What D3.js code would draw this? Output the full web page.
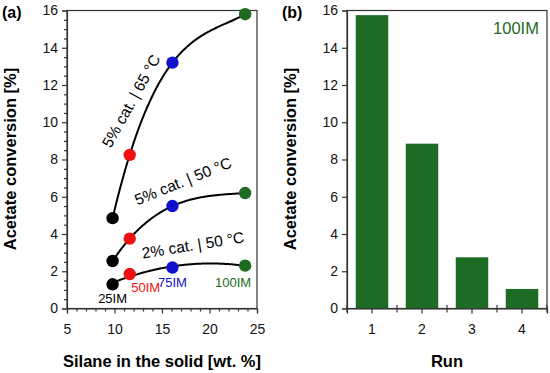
<!DOCTYPE html>
<html><head><meta charset="utf-8">
<script src="https://cdn.jsdelivr.net/npm/d3@7"></script>
<style>
body{margin:0;background:#fff;}
svg{display:block;font-family:"Liberation Sans",Arial,sans-serif;}
</style></head>
<body>
<svg id="c" width="550" height="373"></svg>
<script>
// ---- Data ----
const samples = ["25IM","50IM","75IM","100IM"];
const silane = [9.8, 11.6, 16.1, 23.75];
const sampleColors = ["#000000","#ee1111","#1111cc","#1e6b22"];
const series65_5 = [4.85, 8.25, 13.2, 15.8];
const series50_5 = [2.55, 3.75, 5.5, 6.2];
const series50_2 = [1.3, 1.85, 2.2, 2.3];
const trendOrder = [3, 3, 2];
const seriesLabels = ["5% cat. | 65 °C","5% cat. | 50 °C","2% cat. | 50 °C"];
const runs = ["1","2","3","4"];
const runConversion = [15.75, 8.85, 2.75, 1.05];
const xTicksA = [5,10,15,20,25];
const yTicks = [0,2,4,6,8,10,12,14,16];

const svg = d3.select("#c");
const axisColor = "#333";
const plotTop = 10.5, plotBottom = 308.5;

// ---- Panel (a) ----
const xA = d3.scaleLinear().domain([5,25]).range([67,257]);
const yA = d3.scaleLinear().domain([0,16]).range([plotBottom, plotTop]);

const gA = svg.append("g");
gA.append("rect").attr("x",67).attr("y",plotTop).attr("width",190).attr("height",plotBottom-plotTop)
  .attr("fill","none").attr("stroke",axisColor).attr("stroke-width",1.2);

gA.append("g").attr("transform","translate(67,0)")
  .call(d3.axisLeft(yA).tickValues(yTicks).tickSize(5).tickPadding(4).tickFormat(d3.format("d")));
gA.append("g").attr("transform","translate(67,0)")
  .call(d3.axisLeft(yA).tickValues(d3.range(0,16.01,0.5).filter(v=>v%2!==0)).tickSize(3).tickFormat(""))
  .call(g=>g.select(".domain").remove());
gA.append("g").attr("transform",`translate(0,${plotBottom})`)
  .call(d3.axisBottom(xA).tickValues(xTicksA).tickSize(5).tickPadding(11).tickFormat(d3.format("d")));
gA.append("g").attr("transform",`translate(0,${plotBottom})`)
  .call(d3.axisBottom(xA).tickValues(d3.range(5,25.01,1).filter(v=>v%5!==0)).tickSize(3).tickFormat(""))
  .call(g=>g.select(".domain").remove());

// least-squares polynomial trend line of given order
function polyTrend(xs, ys, order){
  const n = order + 1;
  const A = Array.from({length:n}, ()=>new Array(n+1).fill(0));
  for (let r=0;r<n;r++){
    for (let c=0;c<n;c++) A[r][c] = d3.sum(xs, x=>Math.pow(x, r+c));
    A[r][n] = d3.sum(xs.map((x,i)=>ys[i]*Math.pow(x, r)));
  }
  for (let i=0;i<n;i++){
    let p=i; for (let k=i+1;k<n;k++) if (Math.abs(A[k][i])>Math.abs(A[p][i])) p=k;
    [A[i],A[p]]=[A[p],A[i]];
    for (let k=i+1;k<n;k++){ const f=A[k][i]/A[i][i]; for (let c=i;c<=n;c++) A[k][c]-=f*A[i][c]; }
  }
  const coef = new Array(n).fill(0);
  for (let i=n-1;i>=0;i--){
    let s=A[i][n]; for (let c=i+1;c<n;c++) s-=A[i][c]*coef[c]; coef[i]=s/A[i][i];
  }
  return x => coef.reduce((s,c,k)=>s+c*Math.pow(x,k),0);
}
const line = d3.line().x(d=>xA(d[0])).y(d=>yA(d[1]));
[series65_5, series50_5, series50_2].forEach((ser,si)=>{
  const f = polyTrend(silane, ser, trendOrder[si]);
  const pts = d3.range(silane[0], silane[3]+1e-9, (silane[3]-silane[0])/120).map(x=>[x,f(x)]);
  gA.append("path").attr("d",line(pts)).attr("fill","none").attr("stroke","#000").attr("stroke-width",2);
});
[series65_5, series50_5, series50_2].forEach(ser=>{
  gA.selectAll(null).data(ser).enter().append("circle")
    .attr("cx",(d,i)=>xA(silane[i])).attr("cy",d=>yA(d)).attr("r",6.2)
    .attr("fill",(d,i)=>sampleColors[i]);
});
const labelPos = [
  {x:131, y:101, a:-61},
  {x:183, y:181, a:-22},
  {x:193, y:245, a:-9}
];
seriesLabels.forEach((t,i)=>{
  gA.append("text").attr("transform",`translate(${labelPos[i].x},${labelPos[i].y}) rotate(${labelPos[i].a})`)
    .attr("text-anchor","middle").attr("dominant-baseline","central")
    .attr("font-size",15.5).attr("fill","#000").text(t);
});
const sampleLabelOff = [{dx:0,y:303},{dx:16,y:291.5},{dx:0,y:287},{dx:-12,y:287}];
samples.forEach((s,i)=>{
  gA.append("text").attr("x",xA(silane[i])+sampleLabelOff[i].dx).attr("y",sampleLabelOff[i].y)
    .attr("text-anchor","middle").attr("font-size",13).attr("fill",sampleColors[i]).text(s);
});

// ---- Panel (b) ----
const xB = d3.scaleBand().domain(runs).range([347,547]).paddingInner(0.35).paddingOuter(0.175);
const yB = d3.scaleLinear().domain([0,16]).range([plotBottom, plotTop]);
const gB = svg.append("g");
gB.append("rect").attr("x",347).attr("y",plotTop).attr("width",200).attr("height",plotBottom-plotTop)
  .attr("fill","none").attr("stroke",axisColor).attr("stroke-width",1.2);
gB.selectAll(null).data(runConversion).enter().append("rect")
  .attr("x",(d,i)=>xB(runs[i])).attr("width",xB.bandwidth())
  .attr("y",d=>yB(d)).attr("height",d=>plotBottom-yB(d)).attr("fill","#1e6b26");
gB.append("g").attr("transform","translate(347,0)")
  .call(d3.axisLeft(yB).tickValues(yTicks).tickSize(5).tickPadding(4).tickFormat(d3.format("d")));
gB.append("g").attr("transform",`translate(0,${plotBottom})`)
  .call(d3.axisBottom(xB).tickSize(5).tickPadding(11));
const step = xB.step();
gB.selectAll(null).data(d3.range(runs.length+1)).enter().append("line")
  .attr("x1",i=>347+i*step).attr("x2",i=>347+i*step)
  .attr("y1",plotBottom-3.5).attr("y2",plotBottom+4)
  .attr("stroke",axisColor).attr("stroke-width",1.2);
gB.append("text").attr("x",516).attr("y",34).attr("text-anchor","middle")
  .attr("font-size",16.5).attr("fill","#1e6b26").text("100IM");

svg.selectAll(".tick text").attr("font-size",14).attr("fill","#111").attr("font-family","Liberation Sans, Arial, sans-serif");
svg.selectAll(".tick line").attr("stroke",axisColor).attr("stroke-width",1.2);
svg.selectAll(".domain").attr("stroke",axisColor).attr("stroke-width",1.2);

svg.append("text").attr("transform","translate(16,159) rotate(-90)").attr("text-anchor","middle")
  .attr("font-size",16.5).attr("font-weight","bold").text("Acetate conversion [%]");
svg.append("text").attr("transform","translate(296,159) rotate(-90)").attr("text-anchor","middle")
  .attr("font-size",16.5).attr("font-weight","bold").text("Acetate conversion [%]");
svg.append("text").attr("x",162).attr("y",367).attr("text-anchor","middle")
  .attr("font-size",16.5).attr("font-weight","bold").text("Silane in the solid [wt. %]");
svg.append("text").attr("x",447).attr("y",367).attr("text-anchor","middle")
  .attr("font-size",16.5).attr("font-weight","bold").text("Run");
svg.append("text").attr("x",2).attr("y",18).attr("font-size",16).attr("font-weight","bold").text("(a)");
svg.append("text").attr("x",282).attr("y",18).attr("font-size",16).attr("font-weight","bold").text("(b)");
</script>
</body></html>
